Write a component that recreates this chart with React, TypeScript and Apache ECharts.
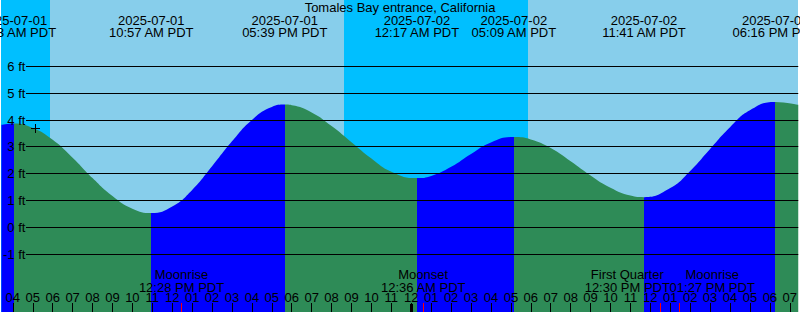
import React, { useEffect, useRef } from 'react';
import * as echarts from 'echarts';

const FONT = '"Liberation Sans", Arial, Helvetica, sans-serif';
const TITLE = 'Tomales Bay entrance, California';

// x values: hours since 2025-07-01 00:00 PDT; y values: tide height in feet
const tideHours = [3.425, 4.05, 5, 6, 7, 8, 9, 10, 10.95, 12, 13, 14, 15, 16, 17, 17.65, 18, 19, 20, 21, 22, 23, 24.283, 25, 26, 27, 28, 29.15, 30, 31, 32, 33, 34, 35, 35.683, 37, 38, 39, 40, 41, 42.267, 43.425];
const tideFeet = [3.83, 3.88, 3.71, 3.27, 2.6, 1.84, 1.17, 0.7, 0.54, 0.78, 1.4, 2.28, 3.21, 4.01, 4.49, 4.58, 4.56, 4.29, 3.78, 3.18, 2.57, 2.08, 1.84, 1.92, 2.26, 2.74, 3.17, 3.37, 3.28, 2.96, 2.47, 1.94, 1.48, 1.19, 1.13, 1.47, 2.11, 2.93, 3.74, 4.37, 4.68, 4.57];

const extremeHours = [4.05, 10.95, 17.65, 24.283, 29.15, 35.683, 42.267];
const extremeKinds = ['high', 'low', 'high', 'low', 'high', 'low', 'high'];
const extremeDates = ['2025-07-01', '2025-07-01', '2025-07-01', '2025-07-02', '2025-07-02', '2025-07-02', '2025-07-02'];
const extremeTimes = ['04:03 AM PDT', '10:57 AM PDT', '05:39 PM PDT', '12:17 AM PDT', '05:09 AM PDT', '11:41 AM PDT', '06:16 PM PDT'];

const moonHours = [12.467, 24.6, 36.5, 37.45];
const moonNames = ['Moonrise', 'Moonset', 'First Quarter', 'Moonrise'];
const moonTimes = ['12:28 PM PDT', '12:36 AM PDT', '12:30 PM PDT', '01:27 PM PDT'];
const moonLabelShift = [0, 0, -33, 33];

const skyStart = [3.425, 5.85, 20.6, 29.85];
const skyEnd = [5.85, 20.6, 29.85, 43.425];
const skyKind = ['night', 'day', 'night', 'day'];

const hourTicks = [4, 5, 6, 7, 8, 9, 10, 11, 12, 13, 14, 15, 16, 17, 18, 19, 20, 21, 22, 23, 24, 25, 26, 27, 28, 29, 30, 31, 32, 33, 34, 35, 36, 37, 38, 39, 40, 41, 42, 43];
const midnightHours = [24];
const depthTicks = [-1, 0, 1, 2, 3, 4, 5, 6];

const nowHour = 5.125;
const nowFeet = 3.68;

const X_MIN = 3.425;
const X_MAX = 43.425;
const Y_MIN = -3.149;
const Y_MAX = 8.478;

const RISING = '#0000ff';
const FALLING = '#2e8b57';
const NIGHT = '#00bfff';
const DAY = '#87ceeb';

const fmtHour = (v: number) => {
  const h = Math.round(v) % 12;
  const hh = h === 0 ? 12 : h;
  return (hh < 10 ? '0' : '') + hh;
};

const crisp = (v: number) => Math.round(v - 0.5) + 0.5;

export default function App() {
  const ref = useRef<HTMLDivElement>(null);
  useEffect(() => {
    document.body.style.margin = '0';
    const chart = echarts.init(ref.current!, null, { renderer: 'svg' });

    const pieces: any[] = [];
    let prev = 0;
    extremeHours.forEach((h, i) => {
      pieces.push({ gte: prev, lt: h, color: extremeKinds[i] === 'high' ? RISING : FALLING });
      prev = h;
    });
    pieces.push({ gte: prev, lte: 48, color: extremeKinds[extremeKinds.length - 1] === 'high' ? FALLING : RISING });

    const txt = (text: string, x: number, y: number) => ({
      type: 'text',
      style: { text, x, y, align: 'center', verticalAlign: 'middle', fill: '#000', fontSize: 13, fontFamily: FONT },
    });

    chart.setOption({
      animation: false,
      title: {
        text: TITLE,
        left: 'center',
        top: 1,
        padding: 0,
        textStyle: { fontSize: 13, fontWeight: 'normal', color: '#000', fontFamily: FONT },
      },
      grid: { left: 0, right: 0, top: 0, bottom: 0 },
      xAxis: {
        type: 'value',
        min: X_MIN,
        max: X_MAX,
        z: 10,
        axisLine: { show: false, onZero: false },
        splitLine: { show: false },
        axisTick: { show: true, inside: true, length: 9, customValues: hourTicks, lineStyle: { color: '#000', width: 1 } },
        axisLabel: { show: true, inside: true, margin: 8, customValues: hourTicks, formatter: fmtHour, color: '#000', fontSize: 13, fontFamily: FONT },
      },
      yAxis: {
        type: 'value',
        min: Y_MIN,
        max: Y_MAX,
        z: 10,
        axisLine: { show: false, onZero: false },
        axisTick: { show: false },
        splitLine: { show: false },
        axisLabel: { inside: true, margin: 24, align: 'right', customValues: depthTicks, formatter: (v: number) => `${v} ft`, color: '#000', fontSize: 13, fontFamily: FONT },
      },
      visualMap: { type: 'piecewise', show: false, dimension: 0, seriesIndex: 1, pieces },
      series: [
        {
          type: 'custom',
          z: 1,
          silent: true,
          data: skyStart.map((s, i) => [s, skyEnd[i]]),
          encode: { x: [0, 1] },
          renderItem: (params: any, api: any) => {
            const i = params.dataIndex;
            const p0 = api.coord([skyStart[i], Y_MAX]);
            const p1 = api.coord([skyEnd[i], Y_MIN]);
            const x0 = Math.round(p0[0]);
            const x1 = Math.round(p1[0]);
            return {
              type: 'rect',
              shape: { x: x0, y: p0[1], width: x1 - x0, height: p1[1] - p0[1] },
              style: { fill: skyKind[i] === 'night' ? NIGHT : DAY },
            };
          },
        },
        {
          type: 'line',
          z: 2,
          silent: true,
          data: tideHours.map((h, i) => [h, tideFeet[i]]),
          smooth: 0.5,
          showSymbol: false,
          symbol: 'none',
          lineStyle: { width: 0 },
          areaStyle: { opacity: 1, origin: 'start' },
        },
        {
          type: 'custom',
          z: 3,
          silent: true,
          data: depthTicks.map((d) => [X_MIN, d]),
          renderItem: (params: any, api: any) => {
            const i = params.dataIndex;
            const y = crisp(api.coord([X_MIN, depthTicks[i]])[1]);
            const cs = params.coordSys;
            return {
              type: 'line',
              shape: { x1: 26, y1: y, x2: cs.x + cs.width, y2: y },
              style: { stroke: '#000', lineWidth: 1 },
            };
          },
        },
        {
          type: 'custom',
          z: 4,
          silent: true,
          data: extremeHours.map((h) => [h, Y_MAX]),
          renderItem: (params: any, api: any) => {
            const i = params.dataIndex;
            const x = api.coord([extremeHours[i], Y_MAX])[0];
            return {
              type: 'group',
              children: [txt(extremeDates[i], x, 20), txt(extremeTimes[i], x, 32)],
            };
          },
        },
        {
          type: 'custom',
          z: 4,
          silent: true,
          data: moonHours.map((h) => [h, Y_MIN]),
          renderItem: (params: any, api: any) => {
            const i = params.dataIndex;
            const x = api.coord([moonHours[i], Y_MIN])[0];
            const xc = crisp(x);
            const xl = x + moonLabelShift[i];
            return {
              type: 'group',
              children: [
                txt(moonNames[i], xl, 274),
                txt(moonTimes[i], xl, 287),
                { type: 'line', shape: { x1: xc, y1: 303, x2: xc, y2: 312 }, style: { stroke: '#ff0000', lineWidth: 1 } },
              ],
            };
          },
        },
        {
          type: 'custom',
          z: 5,
          silent: true,
          data: midnightHours.map((h) => [h, Y_MIN]),
          renderItem: (params: any, api: any) => {
            const i = params.dataIndex;
            const x = Math.round(api.coord([midnightHours[i], Y_MIN])[0]);
            return { type: 'rect', shape: { x: x - 1, y: 304, width: 3, height: 8 }, style: { fill: '#000' } };
          },
        },
        {
          type: 'custom',
          z: 5,
          silent: true,
          data: [[nowHour, nowFeet]],
          renderItem: (params: any, api: any) => {
            const p = api.coord([nowHour, nowFeet]);
            const cx = crisp(p[0]);
            const cy = crisp(p[1]);
            return {
              type: 'group',
              children: [
                { type: 'line', shape: { x1: cx - 4.5, y1: cy, x2: cx + 4.5, y2: cy }, style: { stroke: '#000', lineWidth: 1 } },
                { type: 'line', shape: { x1: cx, y1: cy - 4.5, x2: cx, y2: cy + 4.5 }, style: { stroke: '#000', lineWidth: 1 } },
              ],
            };
          },
        },
      ],
    });
    return () => chart.dispose();
  }, []);
  return <div ref={ref} style={{ width: 800, height: 312 }} />;
}
